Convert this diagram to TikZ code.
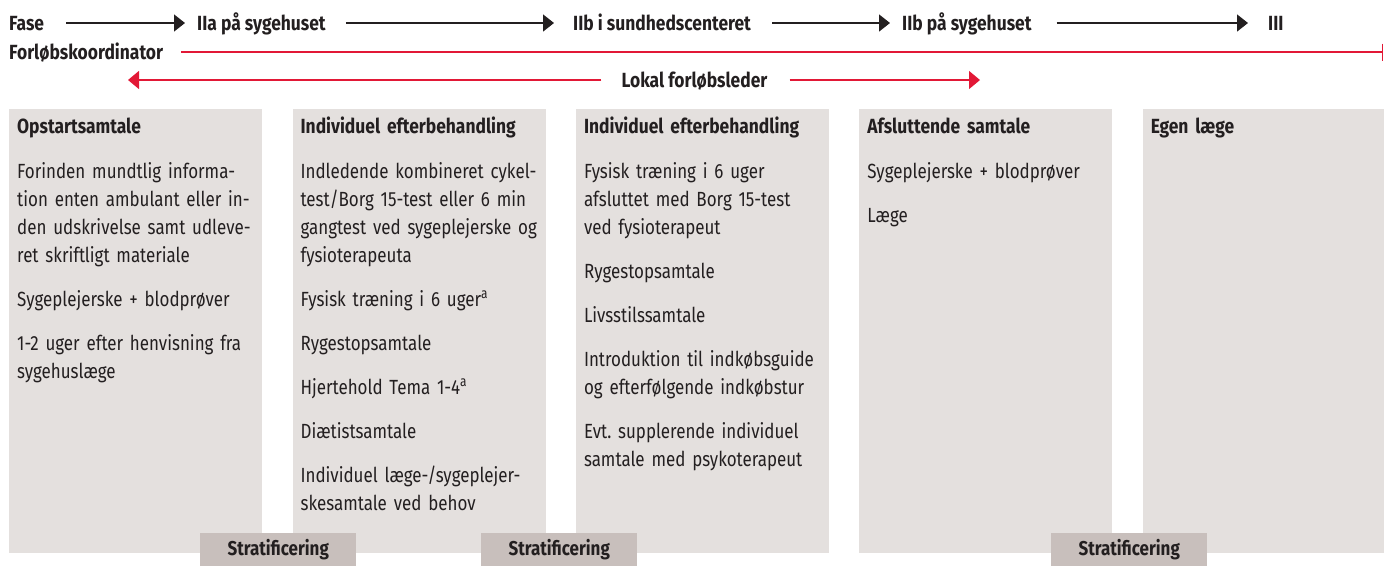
\documentclass[tikz,border=0pt]{standalone}
\usepackage{fontspec}
\setmainfont{Fira Sans}[FakeStretch=0.827, BoldFeatures={FakeStretch=0.85}]
\frenchspacing
\usetikzlibrary{arrows.meta, positioning}
\definecolor{panelgray}{RGB}{228,224,222}
\definecolor{tabgray}{RGB}{200,191,188}
\definecolor{leadred}{RGB}{226,24,54}
\definecolor{ink}{RGB}{35,31,32}
\tikzset{
    phase/.style={
        anchor=base west,
        inner sep=0pt,
        text=ink,
        text height=14pt,
        text depth=0pt,
        font=\bfseries\fontsize{20.5}{24}\selectfont
    },
    panel/.style={
        fill=panelgray,
        anchor=north west,
        minimum width=253pt,
        minimum height=444pt,
        inner sep=0pt
    },
    panelbody/.style={
        anchor=base west,
        inner sep=0pt,
        text width=250pt,
        align=left,
        text=ink,
        font=\fontsize{20.5}{28}\selectfont
    },
    stratbox/.style={
        fill=tabgray,
        anchor=south west,
        minimum width=156pt,
        minimum height=33pt,
        inner sep=0pt,
        text=ink,
        text height=14pt,
        text depth=2pt,
        font=\bfseries\fontsize{20}{24}\selectfont
    },
    line/.style={-{Triangle[length=11pt, width=17pt]}, line width=1.5pt, draw=ink},
    redline/.style={line width=1.3pt, draw=leadred},
    redarrow/.style={redline, -{Triangle[length=11pt, width=18pt]}}
}

\begin{document}
\begin{tikzpicture}[x=1pt, y=-1pt]
\useasboundingbox (0,0) rectangle (1384,566);

% phases
\node[phase] (fase) at (9,30) {Fase};
\node[phase] (iia) at (197,30) {IIa på sygehuset};
\node[phase] (iibs) at (573,30) {IIb i sundhedscenteret};
\node[phase] (iibh) at (902,30) {IIb på sygehuset};
\node[phase] (iii) at (1268,30) {III};

\draw[line, shorten <=22pt, shorten >=12pt] (fase.east) -- (iia.west);
\draw[line, shorten <=20pt, shorten >=19pt] (iia.east) -- (iibs.west);
\draw[line, shorten <=21pt, shorten >=12pt] (iibs.east) -- (iibh.west);
\draw[line, shorten <=25pt, shorten >=20pt] (iibh.east) -- (iii.west);

% coordinators
\node[phase] (koord) at (9,59) {Forløbskoordinator};
\coordinate (koordend) at (1383,52);
\draw[redline, -{Bar[width=17pt]}, shorten <=18pt] (koord.east) -- (koord.east -| koordend);

\node[phase, anchor=base] (lokal) at (694.5,87) {Lokal forløbsleder};
\coordinate (lokalL) at (128,80);
\coordinate (lokalR) at (980,80);
\draw[redarrow, shorten <=20pt] (lokal.west) -- (lokal.west -| lokalL);
\draw[redarrow, shorten <=22pt] (lokal.east) -- (lokal.east -| lokalR);

% panels
\node[panel] (p1) at (9,109) {};
\node[panel, right=30pt of p1] (p2) {};
\node[panel, right=30pt of p2] (p3) {};
\node[panel, right=30pt of p3] (p4) {};
\node[panel, right=30pt of p4] (p5) {};

\node[panelbody] (t1) at ([shift={(8,24)}]p1.north west) {\textbf{Opstartsamtale}\\[17pt]
Forinden mundtlig informa-\\
tion enten ambulant eller in-\\
den udskrivelse samt udleve-\\
ret skriftligt materiale\\[16pt]
Sygeplejerske + blodprøver\\[16pt]
1-2 uger efter henvisning fra\\
sygehuslæge};

\node[panelbody] (t2) at ([shift={(8,24)}]p2.north west) {\textbf{Individuel efterbehandling}\\[17pt]
Indledende kombineret cykel-\\
test/Borg 15-test eller 6 min\\
gangtest ved sygeplejerske og\\
fysioterapeuta\\[16pt]
Fysisk træning i 6 uger\textsuperscript{a}\\[16pt]
Rygestopsamtale\\[16pt]
Hjertehold Tema 1-4\textsuperscript{a}\\[16pt]
Diætistsamtale\\[16pt]
Individuel læge-/sygeplejer-\\
skesamtale ved behov};

\node[panelbody] (t3) at ([shift={(8,24)}]p3.north west) {\textbf{Individuel efterbehandling}\\[17pt]
Fysisk træning i 6 uger\\
afsluttet med Borg 15-test\\
ved fysioterapeut\\[16pt]
Rygestopsamtale\\[16pt]
Livsstilssamtale\\[16pt]
Introduktion til indkøbsguide\\
og efterfølgende indkøbstur\\[16pt]
Evt. supplerende individuel\\
samtale med psykoterapeut};

\node[panelbody] (t4) at ([shift={(8,24)}]p4.north west) {\textbf{Afsluttende samtale}\\[17pt]
Sygeplejerske + blodprøver\\[16pt]
Læge};

\node[panelbody] (t5) at ([shift={(8,24)}]p5.north west) {\textbf{Egen læge}};

% stratification
\node[stratbox] (s1) at (200,566) {Stratificering};
\node[stratbox] (s2) at (481,566) {Stratificering};
\node[stratbox] (s3) at (1051,566) {Stratificering};
\end{tikzpicture}
\end{document}
